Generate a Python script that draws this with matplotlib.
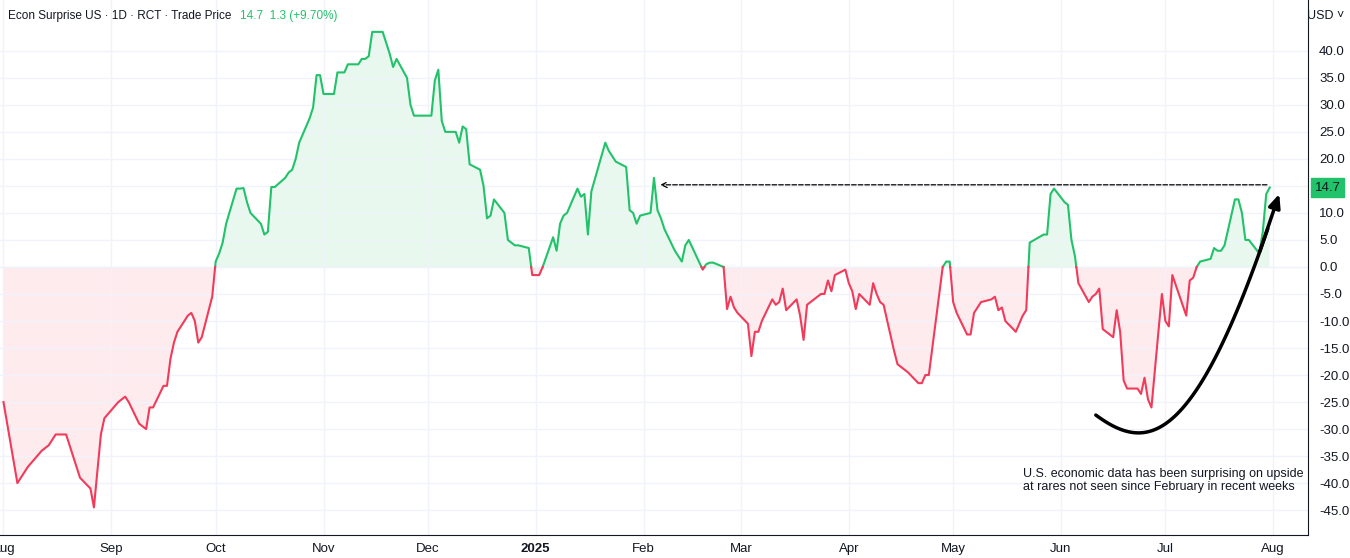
import matplotlib
matplotlib.use("Agg")
import matplotlib.pyplot as plt
import matplotlib.dates as mdates
import numpy as np
import pandas as pd

plt.rcParams['font.family'] = ['Liberation Sans', 'DejaVu Sans']

dates = ["2024-08-01","2024-08-05","2024-08-08","2024-08-12","2024-08-14","2024-08-16","2024-08-19","2024-08-21","2024-08-23","2024-08-26","2024-08-27","2024-08-29","2024-08-30",
"2024-09-03","2024-09-05","2024-09-06","2024-09-09","2024-09-11","2024-09-12","2024-09-13","2024-09-16","2024-09-17","2024-09-18","2024-09-19","2024-09-20","2024-09-23","2024-09-24","2024-09-25","2024-09-26","2024-09-27","2024-09-30",
"2024-10-01","2024-10-02","2024-10-03","2024-10-04","2024-10-07","2024-10-08","2024-10-09","2024-10-10","2024-10-11","2024-10-14","2024-10-15","2024-10-16","2024-10-17","2024-10-18","2024-10-21","2024-10-22","2024-10-23","2024-10-24","2024-10-25","2024-10-28","2024-10-29","2024-10-30","2024-10-31",
"2024-11-01","2024-11-04","2024-11-05","2024-11-06","2024-11-07","2024-11-08","2024-11-11","2024-11-12","2024-11-13","2024-11-14","2024-11-15","2024-11-18","2024-11-19","2024-11-20","2024-11-21","2024-11-22","2024-11-25","2024-11-26","2024-11-27","2024-11-29",
"2024-12-02","2024-12-03","2024-12-04","2024-12-05","2024-12-06","2024-12-09","2024-12-10","2024-12-11","2024-12-12","2024-12-13","2024-12-16","2024-12-17","2024-12-18","2024-12-19","2024-12-20","2024-12-23","2024-12-24","2024-12-26","2024-12-27","2024-12-30","2024-12-31",
"2025-01-02","2025-01-03","2025-01-06","2025-01-07","2025-01-08","2025-01-09","2025-01-10","2025-01-13","2025-01-14","2025-01-15","2025-01-16","2025-01-17","2025-01-21","2025-01-22","2025-01-23","2025-01-24","2025-01-27","2025-01-28","2025-01-29","2025-01-30","2025-01-31",
"2025-02-03","2025-02-04","2025-02-05","2025-02-06","2025-02-07","2025-02-10","2025-02-11","2025-02-12","2025-02-13","2025-02-14","2025-02-18","2025-02-19","2025-02-20","2025-02-21","2025-02-24","2025-02-25","2025-02-26","2025-02-27","2025-02-28",
"2025-03-03","2025-03-04","2025-03-05","2025-03-06","2025-03-07","2025-03-10","2025-03-11","2025-03-12","2025-03-13","2025-03-14","2025-03-17","2025-03-18","2025-03-19","2025-03-20","2025-03-21","2025-03-24","2025-03-25","2025-03-26","2025-03-27","2025-03-28","2025-03-31",
"2025-04-01","2025-04-02","2025-04-03","2025-04-04","2025-04-07","2025-04-08","2025-04-09","2025-04-10","2025-04-11","2025-04-14","2025-04-15","2025-04-16","2025-04-17","2025-04-18","2025-04-21","2025-04-22","2025-04-23","2025-04-24","2025-04-25","2025-04-28","2025-04-29","2025-04-30",
"2025-05-01","2025-05-02","2025-05-05","2025-05-06","2025-05-07","2025-05-08","2025-05-09","2025-05-12","2025-05-13","2025-05-14","2025-05-15","2025-05-16","2025-05-19","2025-05-20","2025-05-21","2025-05-22","2025-05-23","2025-05-27","2025-05-28","2025-05-29","2025-05-30",
"2025-06-02","2025-06-03","2025-06-04","2025-06-05","2025-06-06","2025-06-09","2025-06-10","2025-06-11","2025-06-12","2025-06-13","2025-06-16","2025-06-17","2025-06-18","2025-06-19","2025-06-20","2025-06-23","2025-06-24","2025-06-25","2025-06-26","2025-06-27","2025-06-30",
"2025-07-01","2025-07-02","2025-07-03","2025-07-07","2025-07-08","2025-07-09","2025-07-10","2025-07-11","2025-07-14","2025-07-15","2025-07-16","2025-07-17","2025-07-18","2025-07-21","2025-07-22","2025-07-23","2025-07-24","2025-07-25","2025-07-28","2025-07-29","2025-07-30","2025-07-31"]
values = [-25,-40,-37,-34,-33,-31,-31,-35,-39,-41,-44.5,-31,-28,
-25,-24,-25,-29,-30,-26,-26,-22,-22,-17,-14,-12,-9,-8.5,-10,-14,-13,-5.5,
1,2.5,4.5,8,14.5,14.5,14.6,12,10,8,6,6.5,14.8,14.8,16.5,17.5,18,20,23,27.5,29.5,35.5,35.5,
32,32,36,36,36,37.5,37.5,38.5,38.5,39,43.5,43.5,41.5,39.5,37,38.5,35,30,28,28,
28,34.5,36.5,27,25,25,23,26,25.5,19,18,15,9,9.5,12.5,10,5,4,4,3.5,-1.5,
-1.5,0,5.5,3,8,9.5,10,14.5,13,13.5,6,14,23,21.5,20.5,19.5,18.5,10.5,10,8,9.5,
10,16.5,10.5,9,7,3,2,1,4,5,-0.5,0.5,0.8,0.8,0,-7.8,-5.5,-7.5,-8.5,
-10.5,-16.5,-12,-12,-10,-6,-7,-6.5,-4,-8,-6,-9,-13.5,-7,-6.5,-5,-5,-2.5,-4.5,-1.5,-0.5,
-3,-4.5,-7.8,-5,-7,-3,-5,-6.5,-7,-15.5,-18,-18.5,-19,-19.5,-21.5,-21.5,-20,-20,-15,0,1,1,
-6.5,-8.5,-12.5,-12.5,-8.5,-7.5,-6.5,-6,-5.5,-8,-7.5,-10,-12,-10.5,-9,-8,4.5,6,6,13.5,14.5,
12,11.5,5,2,-3,-6.5,-5.5,-5,-4,-11.5,-13,-8,-12,-21,-22.5,-22.5,-23.5,-20.5,-24.5,-26,-5,
-10,-11,-1.5,-9,-2.5,-2,0,1,1.5,3.5,3,3,4,12.5,12.5,10,5,5,2.5,6.5,13.5,14.7]

yticks = [40,35,30,25,20,15,10,5,0,-5,-10,-15,-20,-25,-30,-35,-40,-45]
last_value = 14.7
GREEN = "#22c26a"
RED = "#f23b5a"

x = mdates.date2num(pd.to_datetime(dates))
y = np.array(values, float)
xs, ys = [x[0]], [y[0]]
for i in range(1, len(x)):
    if (y[i-1] < 0 < y[i]) or (y[i-1] > 0 > y[i]):
        t = y[i-1] / (y[i-1] - y[i])
        xs.append(x[i-1] + t * (x[i] - x[i-1])); ys.append(0.0)
    xs.append(x[i]); ys.append(y[i])
xs = np.array(xs); ys = np.array(ys)

fig = plt.figure(figsize=(13.5, 5.58), dpi=100)
ax = fig.add_axes([0, 23/558, 1308/1350, 1 - 23/558])
ax.plot(xs, np.where(ys >= 0, ys, np.nan), color=GREEN, lw=1.5, zorder=3)
ax.plot(xs, np.where(ys <= 0, ys, np.nan), color=RED, lw=1.5, zorder=3)
ax.fill_between(xs, ys, 0, where=ys >= 0, color=GREEN, alpha=0.1, lw=0, interpolate=True)
ax.fill_between(xs, ys, 0, where=ys <= 0, color=RED, alpha=0.1, lw=0, interpolate=True)
ax.axhline(0, color="#aaaaaa", lw=0.8, ls=(0, (1, 2)), zorder=1)

ax.set_xlim(mdates.datestr2num("2024-07-31"), mdates.datestr2num("2025-08-11"))
ax.set_ylim(-49.6, 49.4)
ax.yaxis.tick_right()
ax.set_yticks(yticks)
ax.set_yticklabels(["" if v == 15 else f"{v:.1f}" for v in yticks])
months = pd.date_range("2024-08-01", "2025-08-01", freq="MS")
ax.set_xticks(mdates.date2num(months))
labels = [("2025" if m.month == 1 else m.strftime("%b")) for m in months]
ax.set_xticklabels(labels)
for lab, m in zip(ax.get_xticklabels(), months):
    if m.month == 1:
        lab.set_fontweight("bold")
ax.tick_params(axis="both", length=0, labelsize=9.5, colors="#131722", pad=6)
ax.tick_params(axis="y", pad=8)
ax.grid(True, color="#f0f3fa", lw=1)
for s in ["top", "left"]:
    ax.spines[s].set_visible(False)
ax.spines["right"].set_color("#131722")
ax.spines["bottom"].set_color("#131722")

ax.annotate("", xy=(mdates.datestr2num("2025-02-05"), 15.2), xytext=(mdates.datestr2num("2025-07-31"), 15.2),
            arrowprops=dict(arrowstyle="->", ls="--", color="black", lw=0.9))
t = np.linspace(0, 1, 80)
P = np.array([[mdates.datestr2num("2025-06-11"), -27.4],
              [mdates.datestr2num("2025-06-26"), -34.5],
              [mdates.datestr2num("2025-07-10"), -34.0],
              [mdates.datestr2num("2025-08-03"), 14.0]])
B = ((1-t)**3)[:, None]*P[0] + (3*(1-t)**2*t)[:, None]*P[1] + (3*(1-t)*t**2)[:, None]*P[2] + (t**3)[:, None]*P[3]
ax.plot(B[:-4, 0], B[:-4, 1], color="black", lw=2.5, solid_capstyle="round", zorder=4)
ax.annotate("", xy=(B[-1, 0], B[-1, 1]), xytext=(B[-8, 0], B[-8, 1]),
            arrowprops=dict(arrowstyle="-|>,head_length=0.8,head_width=0.35", color="black", lw=2.5), zorder=4)

ax.text(mdates.datestr2num("2025-05-21"), -39.5,
        "U.S. economic data has been surprising on upside\nat rares not seen since February in recent weeks",
        fontsize=9, color="#131722", va="center", linespacing=1.05)

t1 = fig.text(0.006, 0.972, "Econ Surprise US · 1D · RCT · Trade Price", fontsize=8.5, color="#131722", va="center")
fig.canvas.draw()
ax.annotate("14.7  1.3 (+9.70%)", xy=(1, 0.5), xycoords=t1, xytext=(6, 0), textcoords="offset points",
            fontsize=8.5, color=GREEN, va="center", annotation_clip=False)
fig.text(0.996, 0.972, "USD ˅", fontsize=9, color="#131722", va="center", ha="right")
ax.text(1.005, last_value, f"{last_value:.1f}", transform=ax.get_yaxis_transform(), fontsize=9.5,
        color="#131722", va="center", ha="left",
        bbox=dict(boxstyle="square,pad=0.3", fc=GREEN, ec=GREEN))

fig.savefig("out.png", dpi=100)
